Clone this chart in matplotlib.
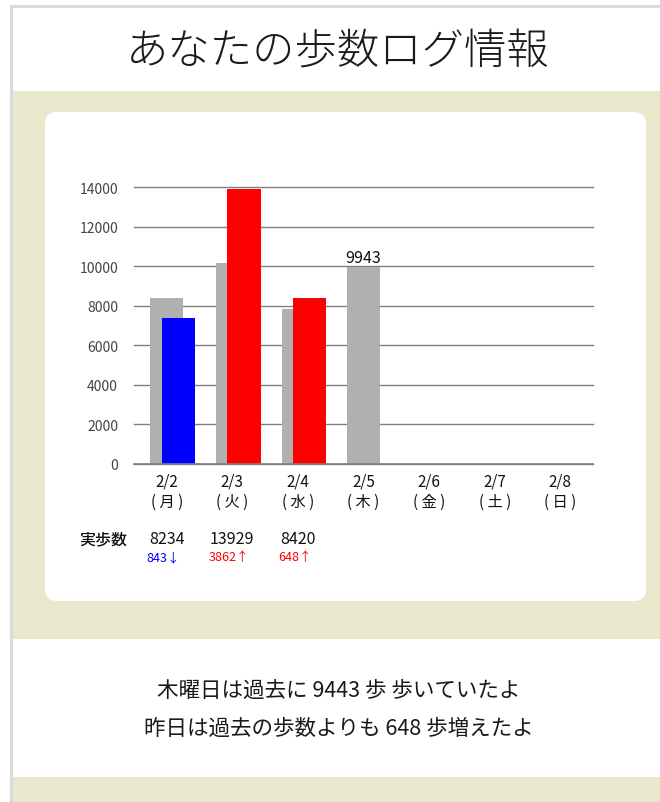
import matplotlib
matplotlib.use("Agg")
import matplotlib.pyplot as plt
from matplotlib.patches import Rectangle, FancyBboxPatch
from matplotlib.transforms import blended_transform_factory

plt.rcParams['font.family'] = ['Noto Sans CJK JP', 'DejaVu Sans']

# ---- data ----
dates = ["2/2", "2/3", "2/4", "2/5", "2/6", "2/7", "2/8"]
weekdays = ["( 月 )", "( 火 )", "( 水 )", "( 木 )", "( 金 )", "( 土 )", "( 日 )"]
past_steps = [8400, 10150, 7830, 9943]          # grey bars (past record)
today_steps = [7391, 13929, 8420]               # coloured bars
actual_steps = ["8234", "13929", "8420"]        # 実歩数 row
diff_steps = [843, 3862, 648]
diff_dir = ["down", "up", "up"]
yticks = [0, 2000, 4000, 6000, 8000, 10000, 12000, 14000]
title = "あなたの歩数ログ情報"
messages = ["木曜日は過去に 9443 歩 歩いていたよ",
            "昨日は過去の歩数よりも 648 歩増えたよ"]

W, H = 660, 803
BEIGE = "#EAE8CC"
GREY_BAR = "#B0B0B0"
UP_C, DOWN_C = "#FF0000", "#0000FF"

fig = plt.figure(figsize=(W / 100, H / 100), dpi=100)
fig.patch.set_facecolor("white")

# page background in pixel units
bg = fig.add_axes([0, 0, 1, 1], zorder=0)
bg.set_xlim(0, W)
bg.set_ylim(H, 0)
bg.axis("off")

bg.add_patch(Rectangle((11, 92), W - 11, 548, facecolor=BEIGE, edgecolor="none"))
bg.add_patch(Rectangle((11, 778), W - 11, H - 778, facecolor=BEIGE, edgecolor="none"))
bg.add_patch(FancyBboxPatch((45, 113), 601, 489,
                            boxstyle="round,pad=0,rounding_size=12",
                            facecolor="white", edgecolor="none"))
bg.add_patch(Rectangle((10, 6), W - 10, 3, facecolor="#DADADA", edgecolor="none"))
bg.add_patch(Rectangle((10, 6), 2.5, H - 6, facecolor="#DADADA", edgecolor="none"))

bg.text(338, 52, title, ha="center", va="center", fontsize=30.5,
        fontweight="light", color="#1a1a1a")
for txt, yy in zip(messages, [691, 729]):
    bg.text(339, yy, txt, ha="center", va="center", fontsize=15.5, color="#1a1a1a")

# ---- chart ----
x0, x1 = 134, 593
y_top, y_bot = 188.3, 465
ax = fig.add_axes([x0 / W, 1 - y_bot / H, (x1 - x0) / W, (y_bot - y_top) / H], zorder=1)
ax.patch.set_alpha(0)
ax.set_xlim(-0.5, len(dates) - 0.5)
ax.set_ylim(0, 14000)
for s in ax.spines.values():
    s.set_visible(False)
ax.set_yticks(yticks)
ax.set_yticklabels([str(v) for v in yticks], fontsize=10, color="#444444")
ax.tick_params(axis="y", length=0, pad=11.5)
ax.set_xticks([])
for v in yticks:
    ax.axhline(v, color="#808080", lw=1.0, zorder=1, clip_on=False)
ax.axhline(0, color="#808080", lw=1.2, zorder=4, clip_on=False)

pos_past = list(range(len(past_steps)))
ax.bar(pos_past, past_steps, width=0.5, color=GREY_BAR, zorder=2)
pos_today = [i + 0.18 for i in range(len(today_steps))]
colors = [UP_C if d == "up" else DOWN_C for d in diff_dir]
ax.bar(pos_today, today_steps, width=0.51, color=colors, zorder=3)

# value label on the latest grey bar
ax.text(pos_past[-1], past_steps[-1] + 90, str(past_steps[-1]), ha="center",
        va="bottom", fontsize=11.5, color="#111111", clip_on=False)

tr = blended_transform_factory(ax.transData, bg.transData)
for i, (d, wd) in enumerate(zip(dates, weekdays)):
    bg.text(i, 482.5, d, transform=tr, ha="center", va="center", fontsize=11, color="#111111")
    bg.text(i, 502, wd, transform=tr, ha="center", va="center", fontsize=11, color="#111111")

bg.text(103, 540, "実歩数", ha="center", va="center", fontsize=11.5,
        fontweight="medium", color="#111111")
for i, (a, dv, dr) in enumerate(zip(actual_steps, diff_steps, diff_dir)):
    bg.text(i, 540, a, transform=tr, ha="center", va="center", fontsize=11.5, color="#111111")
    arrow = "↑" if dr == "up" else "↓"
    col = UP_C if dr == "up" else DOWN_C
    bg.text(i - 0.05, 558, f"{dv}{arrow}", transform=tr, ha="center", va="center",
            fontsize=9, color=col)

fig.savefig("out.png", dpi=100)
